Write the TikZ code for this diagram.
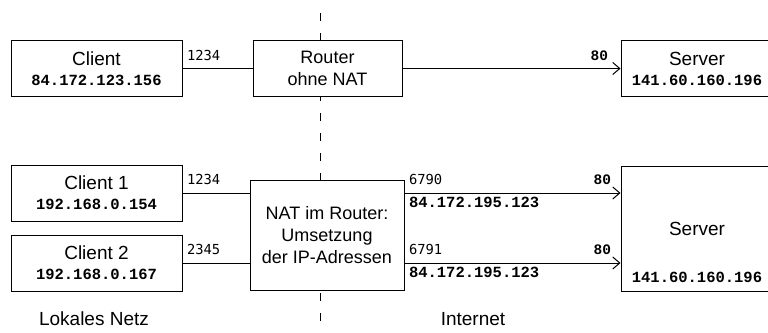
\documentclass[tikz,border=0pt]{standalone}
\usepackage{fontspec}
\setmainfont{Liberation Sans}
\setmonofont{Liberation Mono}
\newfontfamily\portfamily{DejaVu Sans Mono}
\usetikzlibrary{arrows.meta, positioning}
\newcommand{\ipfont}{\ttfamily\bfseries\fontsize{15.5}{17}\selectfont}
\newcommand{\portfont}{\portfamily\fontsize{13.8}{16}\selectfont}
\newcommand{\boldportfont}{\ttfamily\bfseries\fontsize{14.5}{16}\selectfont}
\newcommand{\boxfont}{\fontsize{19}{20}\selectfont}
\newcommand{\routerfont}{\fontsize{18}{22}\selectfont}

\begin{document}
\begin{tikzpicture}[x=1pt, y=-1pt, line width=1pt,
  box/.style={draw, fill=white, minimum width=171pt, minimum height=56pt, align=center, inner sep=0pt, font=\boxfont},
  link/.style={-{Straight Barb[length=7pt, width=12pt]}},
  divider/.style={dash pattern=on 8pt off 12pt},
  port/.style={anchor=base west, inner sep=0pt, xshift=4pt, yshift=8.5pt, font=\portfont},
  portbold/.style={anchor=base east, inner sep=0pt, xshift=-9pt, yshift=8.5pt, font=\boldportfont},
  ipbelow/.style={anchor=base west, inner sep=0pt, xshift=4pt, yshift=-14pt, font=\ipfont}]
  \clip (0,0) rectangle (768,332);

  % Trennlinie zwischen lokalem Netz und Internet
  \draw[divider] (320,13) -- (320,332);

  % ohne NAT
  \node[box] (client) at (96.5,68.5) {Client\\{\ipfont 84.172.123.156}};
  \node[box, minimum width=149pt, font=\routerfont] (router) at (327.5,68.5) {Router\\ohne NAT};
  \node[box, minimum width=152pt] (server) at (697,68.5) {Server\\{\ipfont 141.60.160.196}};

  \draw (client) -- (router) node[port, pos=0] {1234};
  \draw[link] (router) -- (server) node[portbold, pos=1, xshift=-3pt] {80};

  % mit NAT
  \node[box] (client1) at (96.5,193) {Client 1\\{\ipfont 192.168.0.154}};
  \node[box] (client2) at (96.5,263) {Client 2\\{\ipfont 192.168.0.167}};
  \node[box, minimum width=154pt, minimum height=110pt, font=\routerfont] (nat) at (327,235) {NAT im Router:\\Umsetzung\\der IP-Adressen};
  \node[box, minimum width=152pt, minimum height=125pt] (server2) at (697,228.5) {Server};
  \node[anchor=base, yshift=9pt, inner sep=0pt, font=\ipfont] (server2ip) at (server2.south) {141.60.160.196};

  \draw (client1) -- (client1 -| nat.west) node[port, pos=0] {1234};
  \draw (client2) -- (client2 -| nat.west) node[port, pos=0] {2345};
  \draw[link] (client1 -| nat.east) -- (client1 -| server2.west)
    node[port, pos=0] {6790} node[ipbelow, pos=0] {84.172.195.123} node[portbold, pos=1] {80};
  \draw[link] (client2 -| nat.east) -- (client2 -| server2.west)
    node[port, pos=0] {6791} node[ipbelow, pos=0] {84.172.195.123} node[portbold, pos=1] {80};

  \node[font=\boxfont] (lan) at (94,319) {Lokales Netz};
  \node[font=\boxfont] (inet) at (473,319) {Internet};
\end{tikzpicture}
\end{document}
